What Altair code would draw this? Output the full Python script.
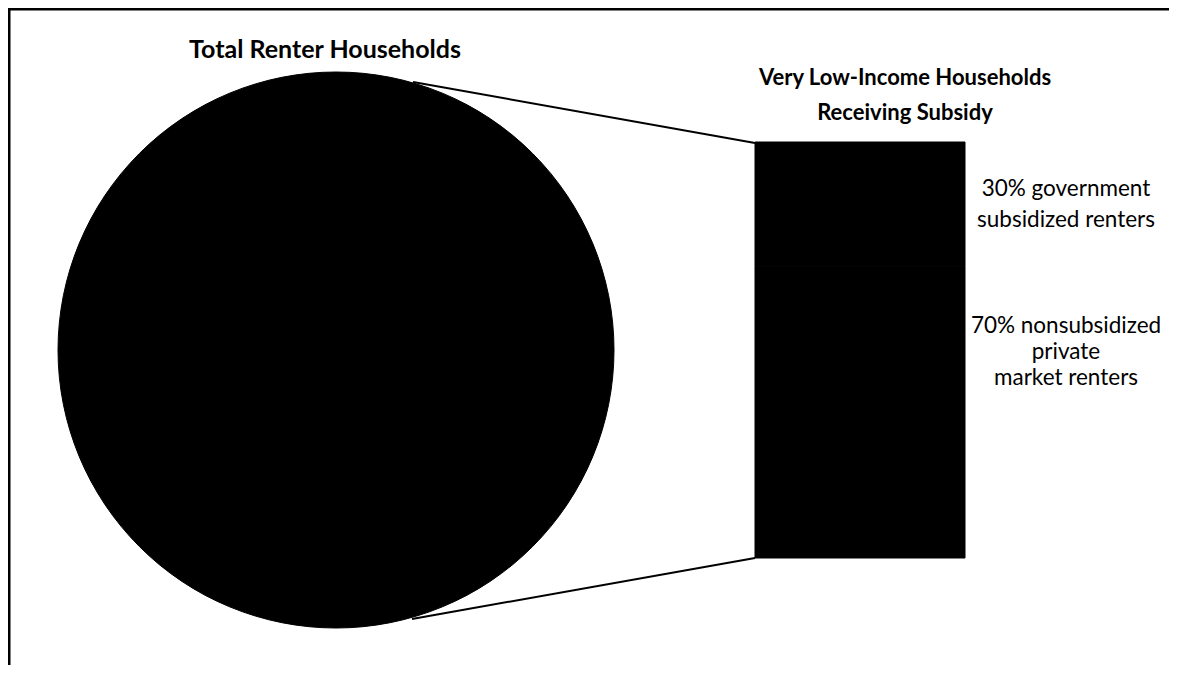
import altair as alt
import pandas as pd

# ---- data ----
pie_categories = ["Total Renter Households"]
pie_values = [100]

bar_categories = ["nonsubsidized private market renters", "government subsidized renters"]
bar_values = [70, 30]
bar_order = [1, 2]

pie_title = "Total Renter Households"
bar_title = ["Very Low-Income Households", "Receiving Subsidy"]
label_top = ["30% government", "subsidized renters"]
label_bottom = ["70% nonsubsidized", "private", "market renters"]

W, H = 1161, 657
FONT = "Lato"

pie_df = pd.DataFrame({"category": pie_categories, "value": pie_values})
bar_df = pd.DataFrame({"category": bar_categories, "value": bar_values, "order": bar_order})
one = pd.DataFrame({"k": [0]})

pie = alt.Chart(pie_df).mark_arc(radius=278, color="black", stroke="black").encode(
    theta=alt.Theta("value:Q", stack=True),
    x=alt.value(328),
    y=alt.value(342),
)

bar = alt.Chart(bar_df).transform_stack(
    stack="value", groupby=[], as_=["v0", "v1"],
    sort=[alt.SortField("order", order="ascending")],
).mark_rect(color="black", stroke="black", strokeWidth=1).encode(
    y=alt.Y("v0:Q", scale=alt.Scale(domain=[0, 100], range=[550, 134]), axis=None),
    y2="v1:Q",
    x=alt.value(747),
    x2=alt.value(957),
)

conn_top = alt.Chart(one).mark_rule(color="black", strokeWidth=2).encode(
    x=alt.value(405), y=alt.value(74), x2=alt.value(747), y2=alt.value(135))
conn_bot = alt.Chart(one).mark_rule(color="black", strokeWidth=2).encode(
    x=alt.value(404), y=alt.value(611), x2=alt.value(747), y2=alt.value(550))

frame_top = alt.Chart(one).mark_rule(color="black", strokeWidth=3).encode(
    x=alt.value(0), x2=alt.value(W), y=alt.value(1))
frame_left = alt.Chart(one).mark_rule(color="black", strokeWidth=3).encode(
    x=alt.value(1), y=alt.value(0), y2=alt.value(H))

t1 = alt.Chart(one).mark_text(font=FONT, fontSize=25, fontWeight="bold",
                              align="center", baseline="middle", color="black").encode(
    x=alt.value(317), y=alt.value(42), text=alt.value(pie_title))
t2 = alt.Chart(one).mark_text(font=FONT, fontSize=22, fontWeight="bold", lineHeight=35,
                              align="center", baseline="middle", color="black").encode(
    x=alt.value(897), y=alt.value(70), text=alt.value(bar_title))
t3 = alt.Chart(one).mark_text(font=FONT, fontSize=22.5, lineHeight=31,
                              align="center", baseline="middle", color="black").encode(
    x=alt.value(1058), y=alt.value(181), text=alt.value(label_top))
t4 = alt.Chart(one).mark_text(font=FONT, fontSize=22.5, lineHeight=26,
                              align="center", baseline="middle", color="black").encode(
    x=alt.value(1058), y=alt.value(318), text=alt.value(label_bottom))

chart = alt.layer(
    frame_top, frame_left, conn_top, conn_bot, pie, bar, t1, t2, t3, t4
).resolve_scale(
    theta="independent", y="independent"
).properties(
    width=W, height=H,
    autosize=alt.AutoSizeParams(type="none"),
    padding=0,
).configure_view(stroke=None).configure(background="white")

chart.save("out.html", embed_options={"renderer": "svg", "actions": False})
